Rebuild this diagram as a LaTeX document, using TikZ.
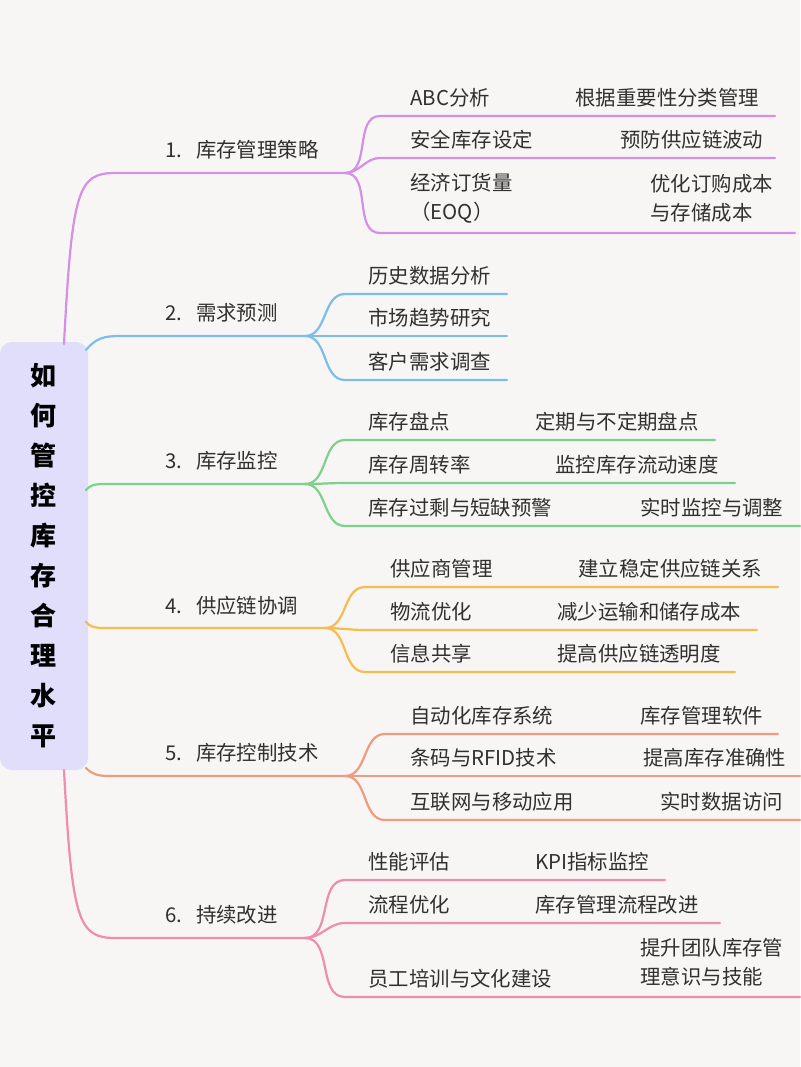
\documentclass[tikz,border=0pt]{standalone}
\usepackage{fontspec}
\setmainfont{Noto Sans CJK SC}
\usetikzlibrary{positioning}
\definecolor{bgc}{HTML}{F8F6F5}
\definecolor{rootc}{HTML}{E1DEFB}
\definecolor{txt}{HTML}{303030}
\definecolor{c1}{HTML}{D48FE6}
\definecolor{c2}{HTML}{7DBDEA}
\definecolor{c3}{HTML}{7CD18C}
\definecolor{c4}{HTML}{F3BD52}
\definecolor{c5}{HTML}{EF9B7F}
\definecolor{c6}{HTML}{F08CB0}
\tikzset{
  lbl/.style={anchor=west,inner sep=0pt,text=txt,font=\fontsize{10.2}{14.5}\selectfont,align=left},
  br/.style={line width=1.1pt,line cap=round}
}
\begin{document}
\begin{tikzpicture}[x=0.5pt,y=-0.5pt]
  \fill[bgc] (0,0) rectangle (800,1067);
  \useasboundingbox (0,0) rectangle (800,1067);

  % root
  \node[fill=rootc,rounded corners=6pt,minimum width=44pt,minimum height=214pt,
        inner sep=0pt,align=center,font=\fontsize{13}{20}\selectfont\bfseries,text=black]
        (root) at (44,556) {如\\何\\管\\控\\库\\存\\合\\理\\水\\平};

  % main branches
  \coordinate (b1) at (345,173);
  \coordinate (b2) at (305,336);
  \coordinate (b3) at (305,484);
  \coordinate (b4) at (325,628);
  \coordinate (b5) at (345,776);
  \coordinate (b6) at (305,938);
  \draw[br,c1] (64,344) .. controls (72,190) and (78,173) .. (115,173) -- (b1);
  \draw[br,c2] (86,350) .. controls (96,338) and (104,336) .. (120,336) -- (b2);
  \draw[br,c3] (86,490) .. controls (90,485) and (95,484) .. (105,484) -- (b3);
  \draw[br,c4] (86,622) .. controls (90,627) and (95,628) .. (105,628) -- (b4);
  \draw[br,c5] (86,768) .. controls (92,774) and (97,776) .. (110,776) -- (b5);
  \draw[br,c6] (64,770) .. controls (72,920) and (78,938) .. (115,938) -- (b6);
  \node[lbl] (m1) at (165,150) {1.\ \ \ 库存管理策略};
  \node[lbl] (m2) at (165,313) {2.\ \ \ 需求预测};
  \node[lbl] (m3) at (165,461) {3.\ \ \ 库存监控};
  \node[lbl] (m4) at (165,606) {4.\ \ \ 供应链协调};
  \node[lbl] (m5) at (165,753) {5.\ \ \ 库存控制技术};
  \node[lbl] (m6) at (165,915) {6.\ \ \ 持续改进};

  % sub branches
  \foreach \y/\e/\l/\rx/\r [count=\i] in {116/775/{ABC分析}/575/{根据重要性分类管理},
      158/775/{安全库存设定}/620/{预防供应链波动},
      233/795/{经济订货量\\（EOQ）}/650/{优化订购成本\\与存储成本}} {
    \coordinate (b1e\i) at (\e,\y);
    \draw[br,c1] (b1) to[out=0,in=180] (380,\y) -- (b1e\i);
    \node[lbl] (b1l\i) at (410,{\y-18-(\i==3)*17}) {\l};
    \node[lbl] (b1r\i) at (\rx,{\y-18-(\i==3)*17}) {\r};
  }
  \foreach \y/\l [count=\i] in {294/{历史数据分析},336/{市场趋势研究},380/{客户需求调查}} {
    \coordinate (b2e\i) at (507,\y);
    \draw[br,c2] (b2) to[out=0,in=180] (345,\y) -- (b2e\i);
    \node[lbl] (b2l\i) at (368,{\y-18}) {\l};
  }
  \foreach \y/\e/\l/\rx/\r [count=\i] in {440/715/{库存盘点}/535/{定期与不定期盘点},
      483/735/{库存周转率}/555/{监控库存流动速度},
      526/800/{库存过剩与短缺预警}/640/{实时监控与调整}} {
    \coordinate (b3e\i) at (\e,\y);
    \draw[br,c3] (b3) to[out=0,in=180] (345,\y) -- (b3e\i);
    \node[lbl] (b3l\i) at (368,{\y-18}) {\l};
    \node[lbl] (b3r\i) at (\rx,{\y-18}) {\r};
  }
  \foreach \y/\e/\l/\rx/\r [count=\i] in {587/778/{供应商管理}/578/{建立稳定供应链关系},
      630/757/{物流优化}/557/{减少运输和储存成本},
      672/735/{信息共享}/557/{提高供应链透明度}} {
    \coordinate (b4e\i) at (\e,\y);
    \draw[br,c4] (b4) to[out=0,in=180] (365,\y) -- (b4e\i);
    \node[lbl] (b4l\i) at (390,{\y-18}) {\l};
    \node[lbl] (b4r\i) at (\rx,{\y-18}) {\r};
  }
  \foreach \y/\e/\l/\rx/\r [count=\i] in {734/778/{自动化库存系统}/640/{库存管理软件},
      776/800/{条码与RFID技术}/643/{提高库存准确性},
      820/800/{互联网与移动应用}/660/{实时数据访问}} {
    \coordinate (b5e\i) at (\e,\y);
    \draw[br,c5] (b5) to[out=0,in=180] (385,\y) -- (b5e\i);
    \node[lbl] (b5l\i) at (410,{\y-18}) {\l};
    \node[lbl] (b5r\i) at (\rx,{\y-18}) {\r};
  }
  \foreach \y/\e/\l/\rx/\r [count=\i] in {880/665/{性能评估}/535/{KPI指标监控},
      923/720/{流程优化}/535/{库存管理流程改进}} {
    \coordinate (b6e\i) at (\e,\y);
    \draw[br,c6] (b6) to[out=0,in=180] (345,\y) -- (b6e\i);
    \node[lbl] (b6l\i) at (368,{\y-18}) {\l};
    \node[lbl] (b6r\i) at (\rx,{\y-18}) {\r};
  }
  \coordinate (b6e3) at (800,997);
  \draw[br,c6] (b6) to[out=0,in=180] (345,997) -- (b6e3);
  \node[lbl] (b6l3) at (368,979) {员工培训与文化建设};
  \node[lbl] (b6r3) at (640,962) {提升团队库存管\\理意识与技能};
\end{tikzpicture}
\end{document}
